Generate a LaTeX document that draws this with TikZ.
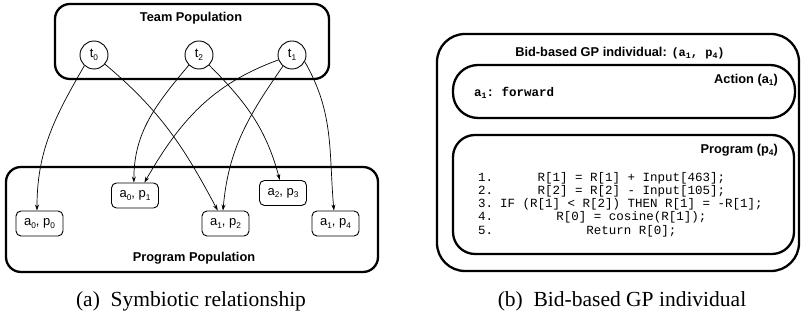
\documentclass[tikz,border=0pt]{standalone}
\usepackage{fontspec}
\setmainfont{Liberation Serif}
\setsansfont{Liberation Sans}
\setmonofont{Liberation Mono}
\usetikzlibrary{arrows.meta}

% small lowered index digit used in labels
\newcommand{\lo}[1]{\raisebox{-0.35ex}{\fontsize{8.3}{9}\selectfont #1}}

\tikzset{
  panel/.style={draw, line width=2.3pt, rounded corners=15pt, inner sep=0pt},
  teamnode/.style={draw, circle, line width=0.9pt, minimum size=28pt, inner sep=0pt,
    font=\sffamily\fontsize{13}{13}\selectfont},
  prognode/.style={draw, line width=0.9pt, rounded corners=5pt, minimum width=47pt,
    minimum height=25pt, inner sep=0pt, font=\sffamily\fontsize{13}{13}\selectfont},
  heading/.style={inner sep=0pt, font=\sffamily\bfseries\fontsize{12.8}{13}\selectfont},
  link/.style={line width=0.7pt, -{Stealth[length=6pt, width=4pt]}},
  caption/.style={inner sep=0pt, anchor=base, font=\fontsize{21.5}{23}\selectfont},
}

\begin{document}
\begin{tikzpicture}[x=1pt, y=1pt]
\useasboundingbox (0,0) rectangle (801,320);

% ---------- (a) team / program populations ----------
\node[panel, minimum width=274pt, minimum height=75pt] (teampop) at (192,278.5) {};
\node[heading] (teamtitle) at (191,302) {Team Population};

\node[teamnode] (t0) at (94,265)  {t\lo{0}};
\node[teamnode] (t2) at (199,265) {t\lo{2}};
\node[teamnode] (t1) at (292,265) {t\lo{1}};

\node[panel, minimum width=372pt, minimum height=105pt] (progpop) at (192,100.5) {};
\node[heading] (progtitle) at (194,62) {Program Population};

\node[prognode] (p0) at (39.5,96.5)  {a\lo{0}, p\lo{0}};
\node[prognode] (p1) at (135,124.5)  {a\lo{0}, p\lo{1}};
\node[prognode] (p2) at (225.5,96.5) {a\lo{1}, p\lo{2}};
\node[prognode] (p3) at (283,127)    {a\lo{2}, p\lo{3}};
\node[prognode] (p4) at (335.5,96.5) {a\lo{1}, p\lo{4}};

\draw[link] (t0.-132) to[out=-120, in=90]  (p0.101);
\draw[link] (t0.-40)  to[out=-40,  in=118] (p2.121);
\draw[link] (t2.-135) to[out=-130, in=90]  (p1.95);
\draw[link] (t2.-45)  to[out=-45,  in=105] (p3.104);
\draw[link] (t1.-160) to[out=200,  in=60]  (p1.54);
\draw[link] (t1.-129) to[out=-125, in=85]  (p2.101);
\draw[link] (t1.-28)  to[out=-60,  in=95]  (p4.97);

\node[caption] (capa) at (191,13) {(a)\ \ Symbiotic relationship};

% ---------- (b) one bid-based GP individual ----------
\node[panel, rounded corners=28pt, minimum width=362pt, minimum height=237pt] (indiv) at (618,167.5) {};
\node[heading] (indivtitle) at (620,267)
  {Bid-based GP individual: {\ttfamily\fontsize{12}{13}\selectfont(a\lo{1}, p\lo{4})}};

\node[panel, rounded corners=25pt, minimum width=342pt, minimum height=53pt] (action) at (624,228.5) {};
\node[heading, anchor=east] (actiontitle) at (778,240) {Action (a\lo{1})};
\node[inner sep=0pt, anchor=west, font=\ttfamily\bfseries\fontsize{12.5}{13}\selectfont]
  (actiontext) at (474,227) {a\lo{1}: forward};

\node[panel, rounded corners=22pt, minimum width=341pt, minimum height=119pt] (program) at (623.5,125.5) {};
\node[heading, anchor=east] (programtitle) at (778,170) {Program (p\lo{4})};
\node[inner sep=0pt, anchor=north west, font=\ttfamily\fontsize{12.5}{13.3}\selectfont]
  (code) at (478,148.5) {%
  \begin{tabular}{@{}p{22pt}@{}c@{}}
  1. & R[1] = R[1] + Input[463];\\
  2. & R[2] = R[2] - Input[105];\\
  3. & IF (R[1] < R[2]) THEN R[1] = -R[1];\\
  4. & R[0] = cosine(R[1]);\\
  5. & Return R[0];
  \end{tabular}};

\node[caption] (capb) at (622,13) {(b)\ \ Bid-based GP individual};
\end{tikzpicture}
\end{document}
